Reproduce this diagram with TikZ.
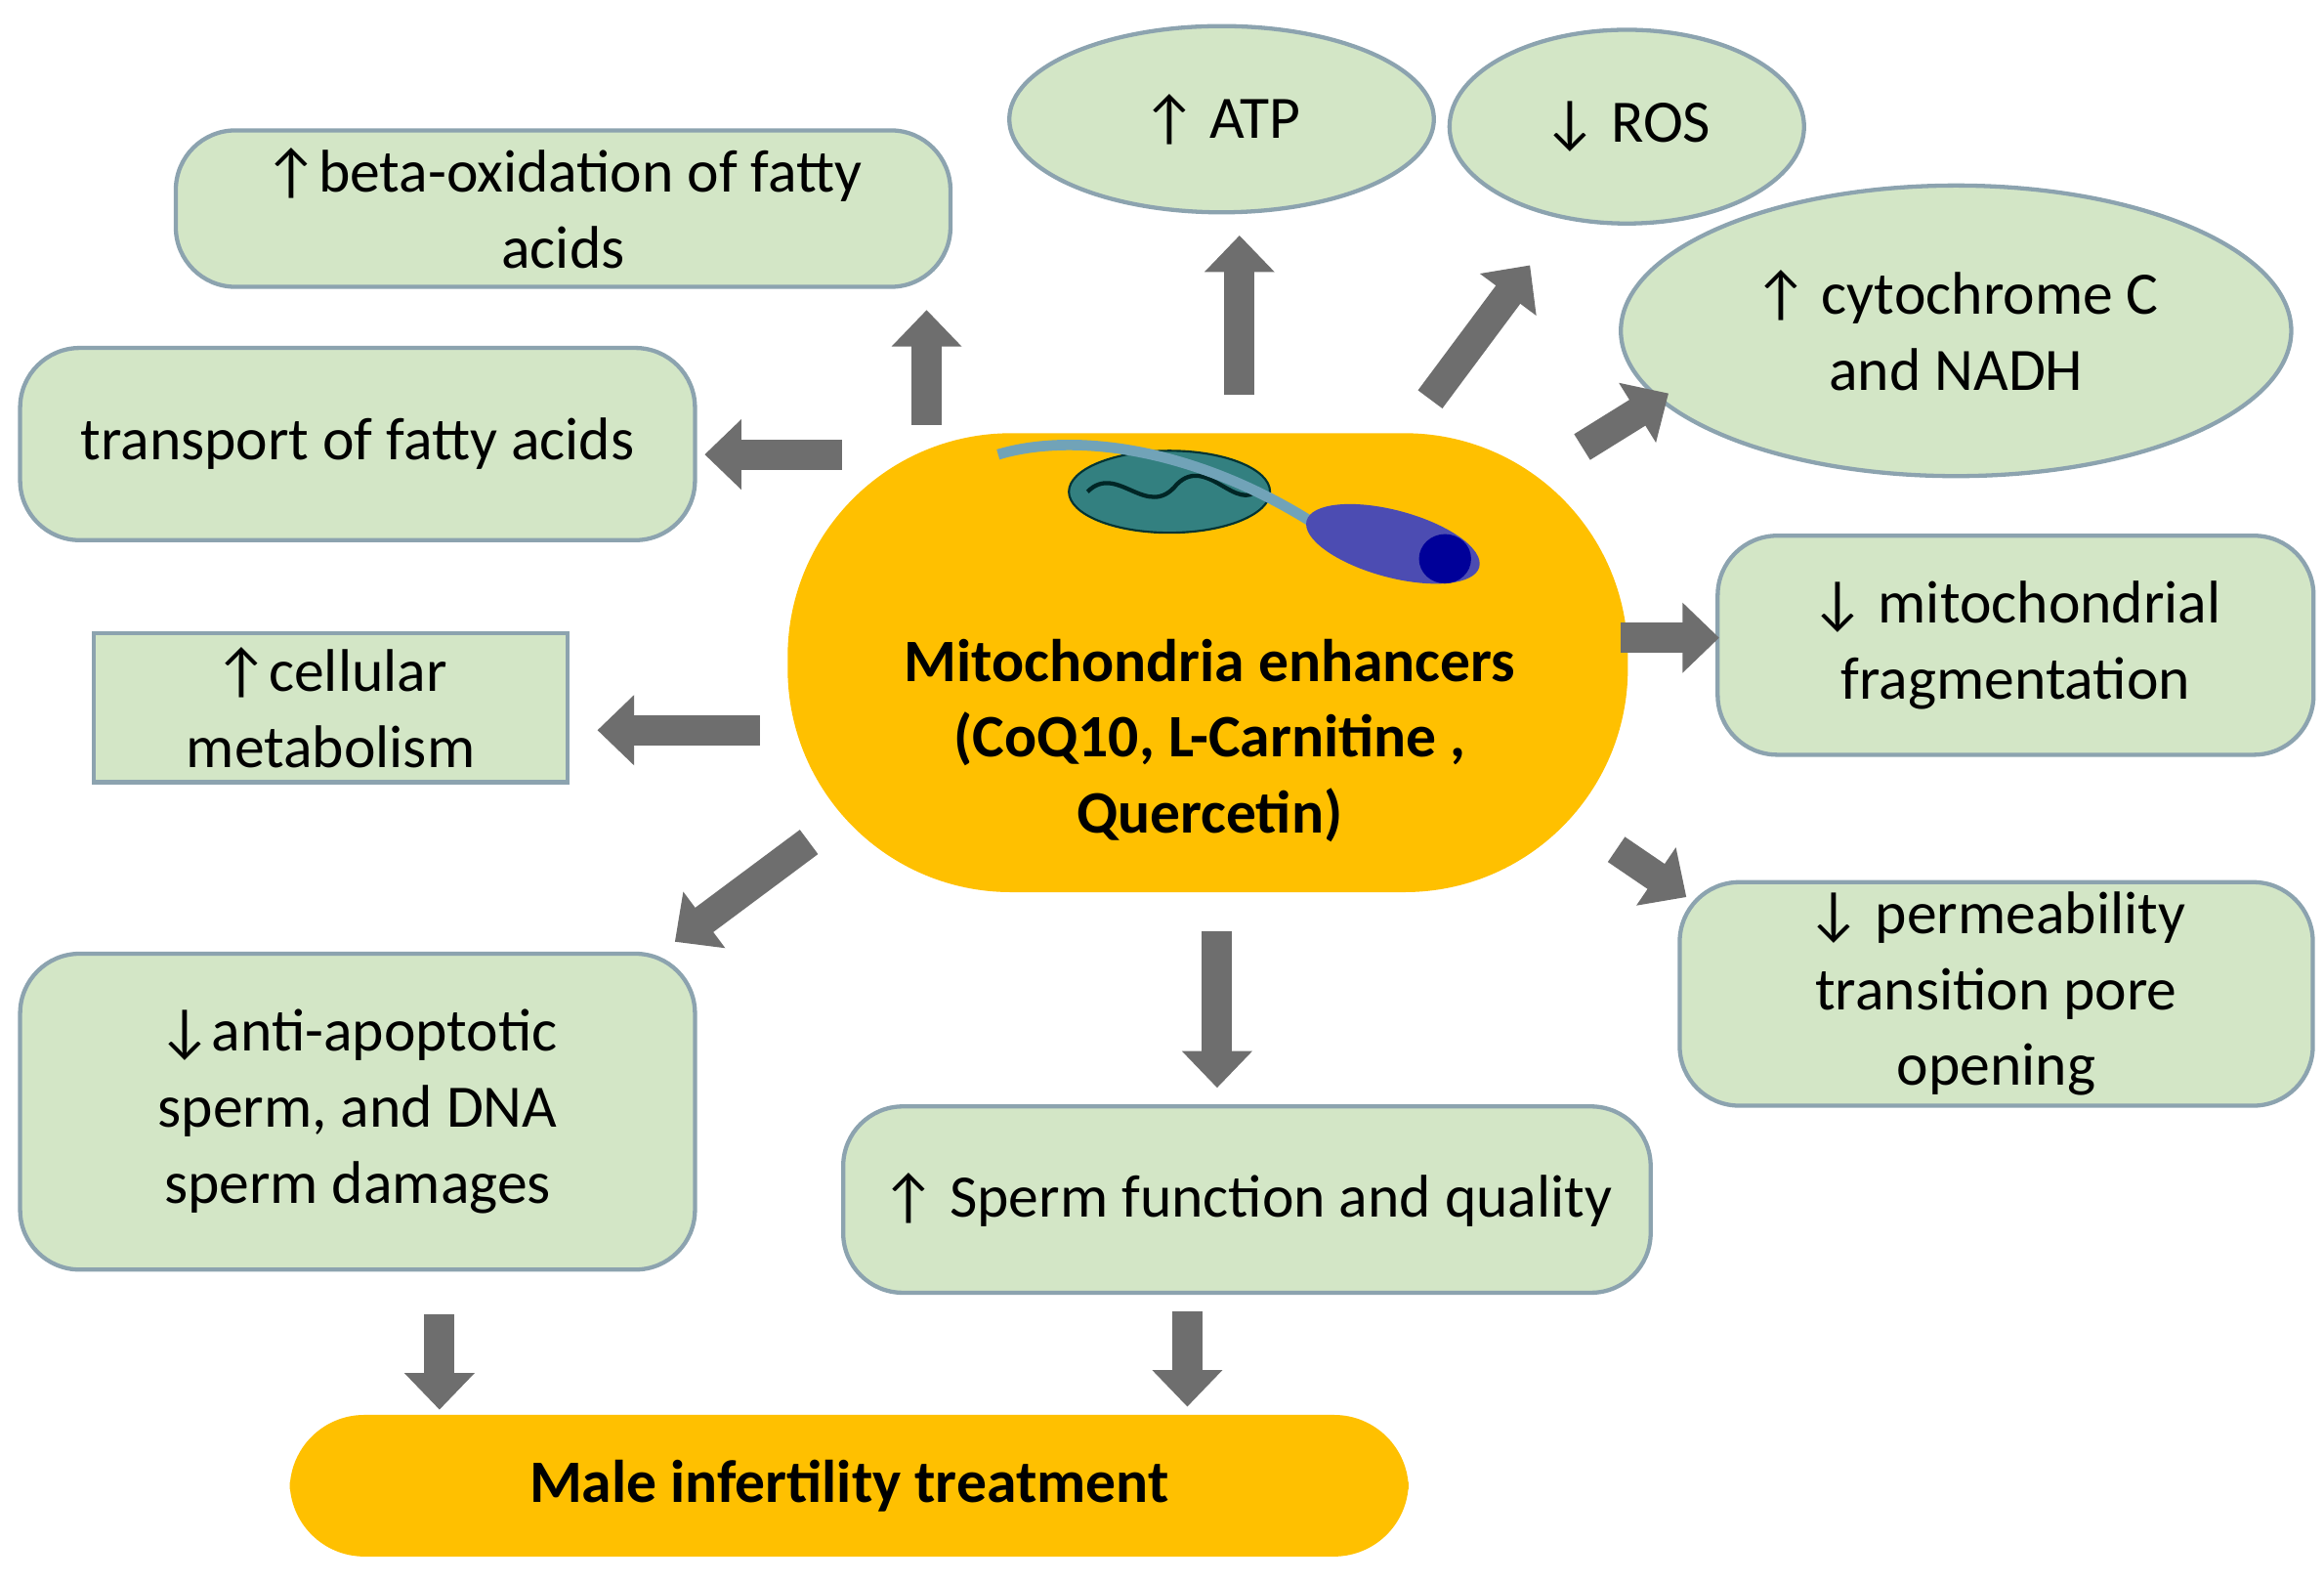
\documentclass[tikz,border=0pt]{standalone}
\usepackage{fontspec}
\setmainfont{Carlito}
\usetikzlibrary{arrows.meta,shapes.geometric}
\definecolor{gfill}{HTML}{D3E6C6}
\definecolor{gdraw}{HTML}{8CA3AF}
\definecolor{org}{HTML}{FFC000}
\definecolor{arr}{HTML}{6E6E6E}
\begin{document}
\begin{tikzpicture}[x=0.1mm,y=-0.1mm,
  box/.style={draw=gdraw,line width=0.8pt,fill=gfill,rounded corners=4mm,align=center,font=\fontsize{11.5}{14.5}\selectfont,inner sep=0pt},
  sbox/.style={box,rounded corners=0pt},
  ell/.style={draw=gdraw,line width=0.8pt,fill=gfill,ellipse,align=center,font=\fontsize{11.5}{14.5}\selectfont,inner sep=0pt},
  ba/.style={draw=arr,line width=5.8pt,-{Triangle[width=13pt,length=7pt]}}]
\useasboundingbox (0,0) rectangle (1560,1062);
% center
\node[fill=org,rounded corners=15mm,minimum width=564*0.1mm,minimum height=308*0.1mm,anchor=north west] (c) at (528,290) {};
\node[font=\bfseries\fontsize{11.5}{14.5}\selectfont,align=center] (ct) at (812,497) {Mitochondria enhancers\\(CoQ10, L-Carnitine ,\\Quercetin)};
% mito + sperm image approx
\node[fill=teal!60!gray,draw=teal!40!black,ellipse,minimum width=135*0.1mm,minimum height=55*0.1mm] (mito) at (785,330) {};
\draw[teal!30!black,line width=0.8pt] (730,330) .. controls (750,310) and (770,350) .. (790,325) .. controls (810,305) and (830,345) .. (845,328);
\draw[cyan!40!gray,line width=2pt] (670,305) .. controls (720,290) and (800,300) .. (880,350);
\node[fill=blue!40!gray,ellipse,minimum width=120*0.1mm,minimum height=45*0.1mm,rotate=-15] (head) at (935,365) {};
\node[fill=blue!60!black,ellipse,minimum width=35*0.1mm,minimum height=25*0.1mm] (nuc) at (970,375) {};
% boxes
\node[box,minimum width=520*0.1mm,minimum height=105*0.1mm] (beta) at (378,140) {↑beta-oxidation of fatty\\acids};
\node[box,minimum width=453*0.1mm,minimum height=129*0.1mm] (tr) at (240,298) {transport of fatty acids};
\node[sbox,minimum width=318*0.1mm,minimum height=100*0.1mm] (cm) at (222,475) {↑cellular\\metabolism};
\node[box,minimum width=453*0.1mm,minimum height=212*0.1mm] (anti) at (240,746) {↓anti-apoptotic\\sperm, and DNA\\sperm damages};
\node[box,minimum width=542*0.1mm,minimum height=125*0.1mm] (sf) at (837,805) {↑ Sperm function and quality};
\node[fill=org,rounded corners=5mm,minimum width=751*0.1mm,minimum height=95*0.1mm] (male) at (570,997) {};
\node[font=\fontsize{11.5}{14.5}\selectfont\bfseries] (mt) at (570,997) {Male infertility treatment};
\node[ell,minimum width=285*0.1mm,minimum height=125*0.1mm] (atp) at (820,80) {↑ ATP};
\node[ell,minimum width=238*0.1mm,minimum height=130*0.1mm] (ros) at (1092,85) {↓ ROS};
\node[ell,minimum width=450*0.1mm,minimum height=195*0.1mm] (cyt) at (1313,222) {↑ cytochrome C\\and NADH};
\node[box,minimum width=400*0.1mm,minimum height=147*0.1mm] (frag) at (1353,433) {↓ mitochondrial\\fragmentation};
\node[box,minimum width=425*0.1mm,minimum height=150*0.1mm] (perm) at (1340,667) {↓ permeability\\transition pore\\opening};
% arrows
\coordinate (a1) at (622,285); \coordinate (b1) at (622,208);
\coordinate (a2) at (565,305); \coordinate (b2) at (473,305);
\coordinate (a3) at (832,265); \coordinate (b3) at (832,158);
\coordinate (a4) at (960,268); \coordinate (b4) at (1027,178);
\coordinate (a5) at (1062,300); \coordinate (b5) at (1120,264);
\coordinate (a6) at (1088,428); \coordinate (b6) at (1154,428);
\coordinate (a7) at (1085,570); \coordinate (b7) at (1132,602);
\coordinate (a8) at (510,490); \coordinate (b8) at (401,490);
\coordinate (a9) at (543,565); \coordinate (b9) at (453,632);
\coordinate (a10) at (817,625); \coordinate (b10) at (817,730);
\coordinate (a11) at (295,882); \coordinate (b11) at (295,946);
\coordinate (a12) at (797,880); \coordinate (b12) at (797,944);
\foreach \i in {1,...,12} \draw[ba] (a\i) -- (b\i);
\end{tikzpicture}
\end{document}
